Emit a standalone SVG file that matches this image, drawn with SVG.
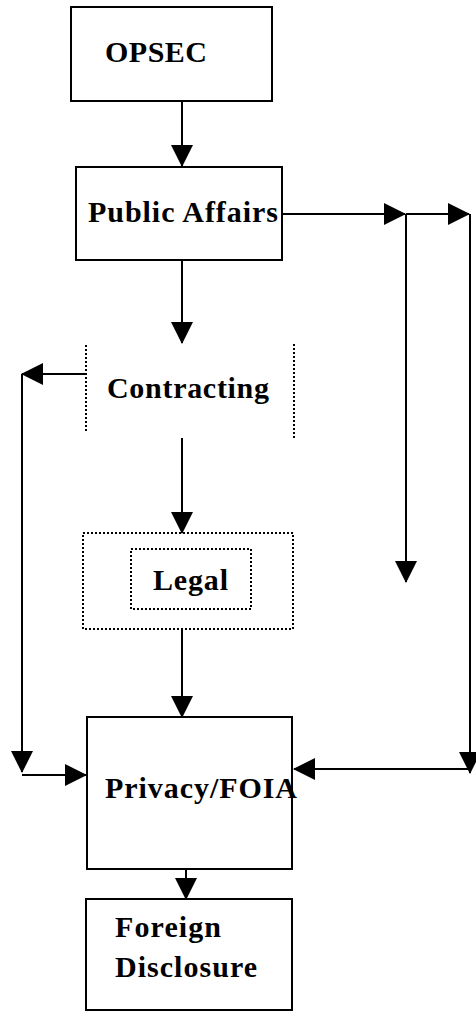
<svg xmlns="http://www.w3.org/2000/svg" width="476" height="1013" viewBox="0 0 476 1013">
<style>
.box{fill:#fff;stroke:#000;stroke-width:2}
.dot{fill:none;stroke:#000;stroke-width:2;stroke-dasharray:2 2}
.ln{fill:none;stroke:#000;stroke-width:2;marker-end:url(#ah)}
.t{font-family:"Liberation Serif","Times New Roman",serif;font-weight:bold;font-size:30px;fill:#000}
</style>
<defs>
<marker id="ah" markerUnits="userSpaceOnUse" markerWidth="22" markerHeight="22" refX="21" refY="11" orient="auto" viewBox="0 0 22 22">
<path d="M0,0 L22,11 L0,22 z" fill="#000"/>
</marker>
</defs>
<rect width="476" height="1013" fill="#fff"/>
<g id="connectors">
<line class="ln" x1="182" y1="101" x2="182" y2="166"/>
<line class="ln" x1="182" y1="260" x2="182" y2="343"/>
<line class="ln" x1="282" y1="214" x2="405" y2="214"/>
<line class="ln" x1="406" y1="214" x2="469" y2="214"/>
<line class="ln" x1="406" y1="214" x2="406" y2="582"/>
<line class="ln" x1="470" y1="214" x2="470" y2="773"/>
<line class="ln" x1="470" y1="769" x2="294" y2="769"/>
<line class="ln" x1="86" y1="374" x2="22" y2="374"/>
<line class="ln" x1="22" y1="374" x2="22" y2="772"/>
<line class="ln" x1="22" y1="775" x2="86" y2="775"/>
<line class="ln" x1="182" y1="438" x2="182" y2="533"/>
<line class="ln" x1="182" y1="629" x2="182" y2="717"/>
<line class="ln" x1="186" y1="862" x2="186" y2="899"/>
</g>
<g id="opsec">
<rect class="box" x="71" y="7" width="201" height="94"/>
<text class="t" x="105" y="62" textLength="102" lengthAdjust="spacing">OPSEC</text>
</g>
<g id="public-affairs">
<rect class="box" x="76" y="167" width="206" height="93"/>
<text class="t" x="88" y="222" textLength="190" lengthAdjust="spacing">Public Affairs</text>
</g>
<g id="contracting">
<line class="dot" x1="86" y1="345" x2="86" y2="433"/>
<line class="dot" x1="294" y1="344" x2="294" y2="438"/>
<text class="t" x="107" y="398" textLength="162" lengthAdjust="spacing">Contracting</text>
</g>
<g id="legal">
<rect class="dot" x="83" y="533" width="210" height="96"/>
<rect class="dot" x="131" y="549" width="120" height="60"/>
<text class="t" x="153" y="590" textLength="75" lengthAdjust="spacing">Legal</text>
</g>
<g id="privacy-foia">
<rect class="box" x="87" y="717" width="205" height="152"/>
<text class="t" x="105" y="798" textLength="192" lengthAdjust="spacing">Privacy/FOIA</text>
</g>
<g id="foreign-disclosure">
<rect class="box" x="86" y="899" width="206" height="111"/>
<text class="t" x="115" y="937" textLength="106" lengthAdjust="spacing">Foreign</text>
<text class="t" x="115" y="977" textLength="142" lengthAdjust="spacing">Disclosure</text>
</g>
</svg>
